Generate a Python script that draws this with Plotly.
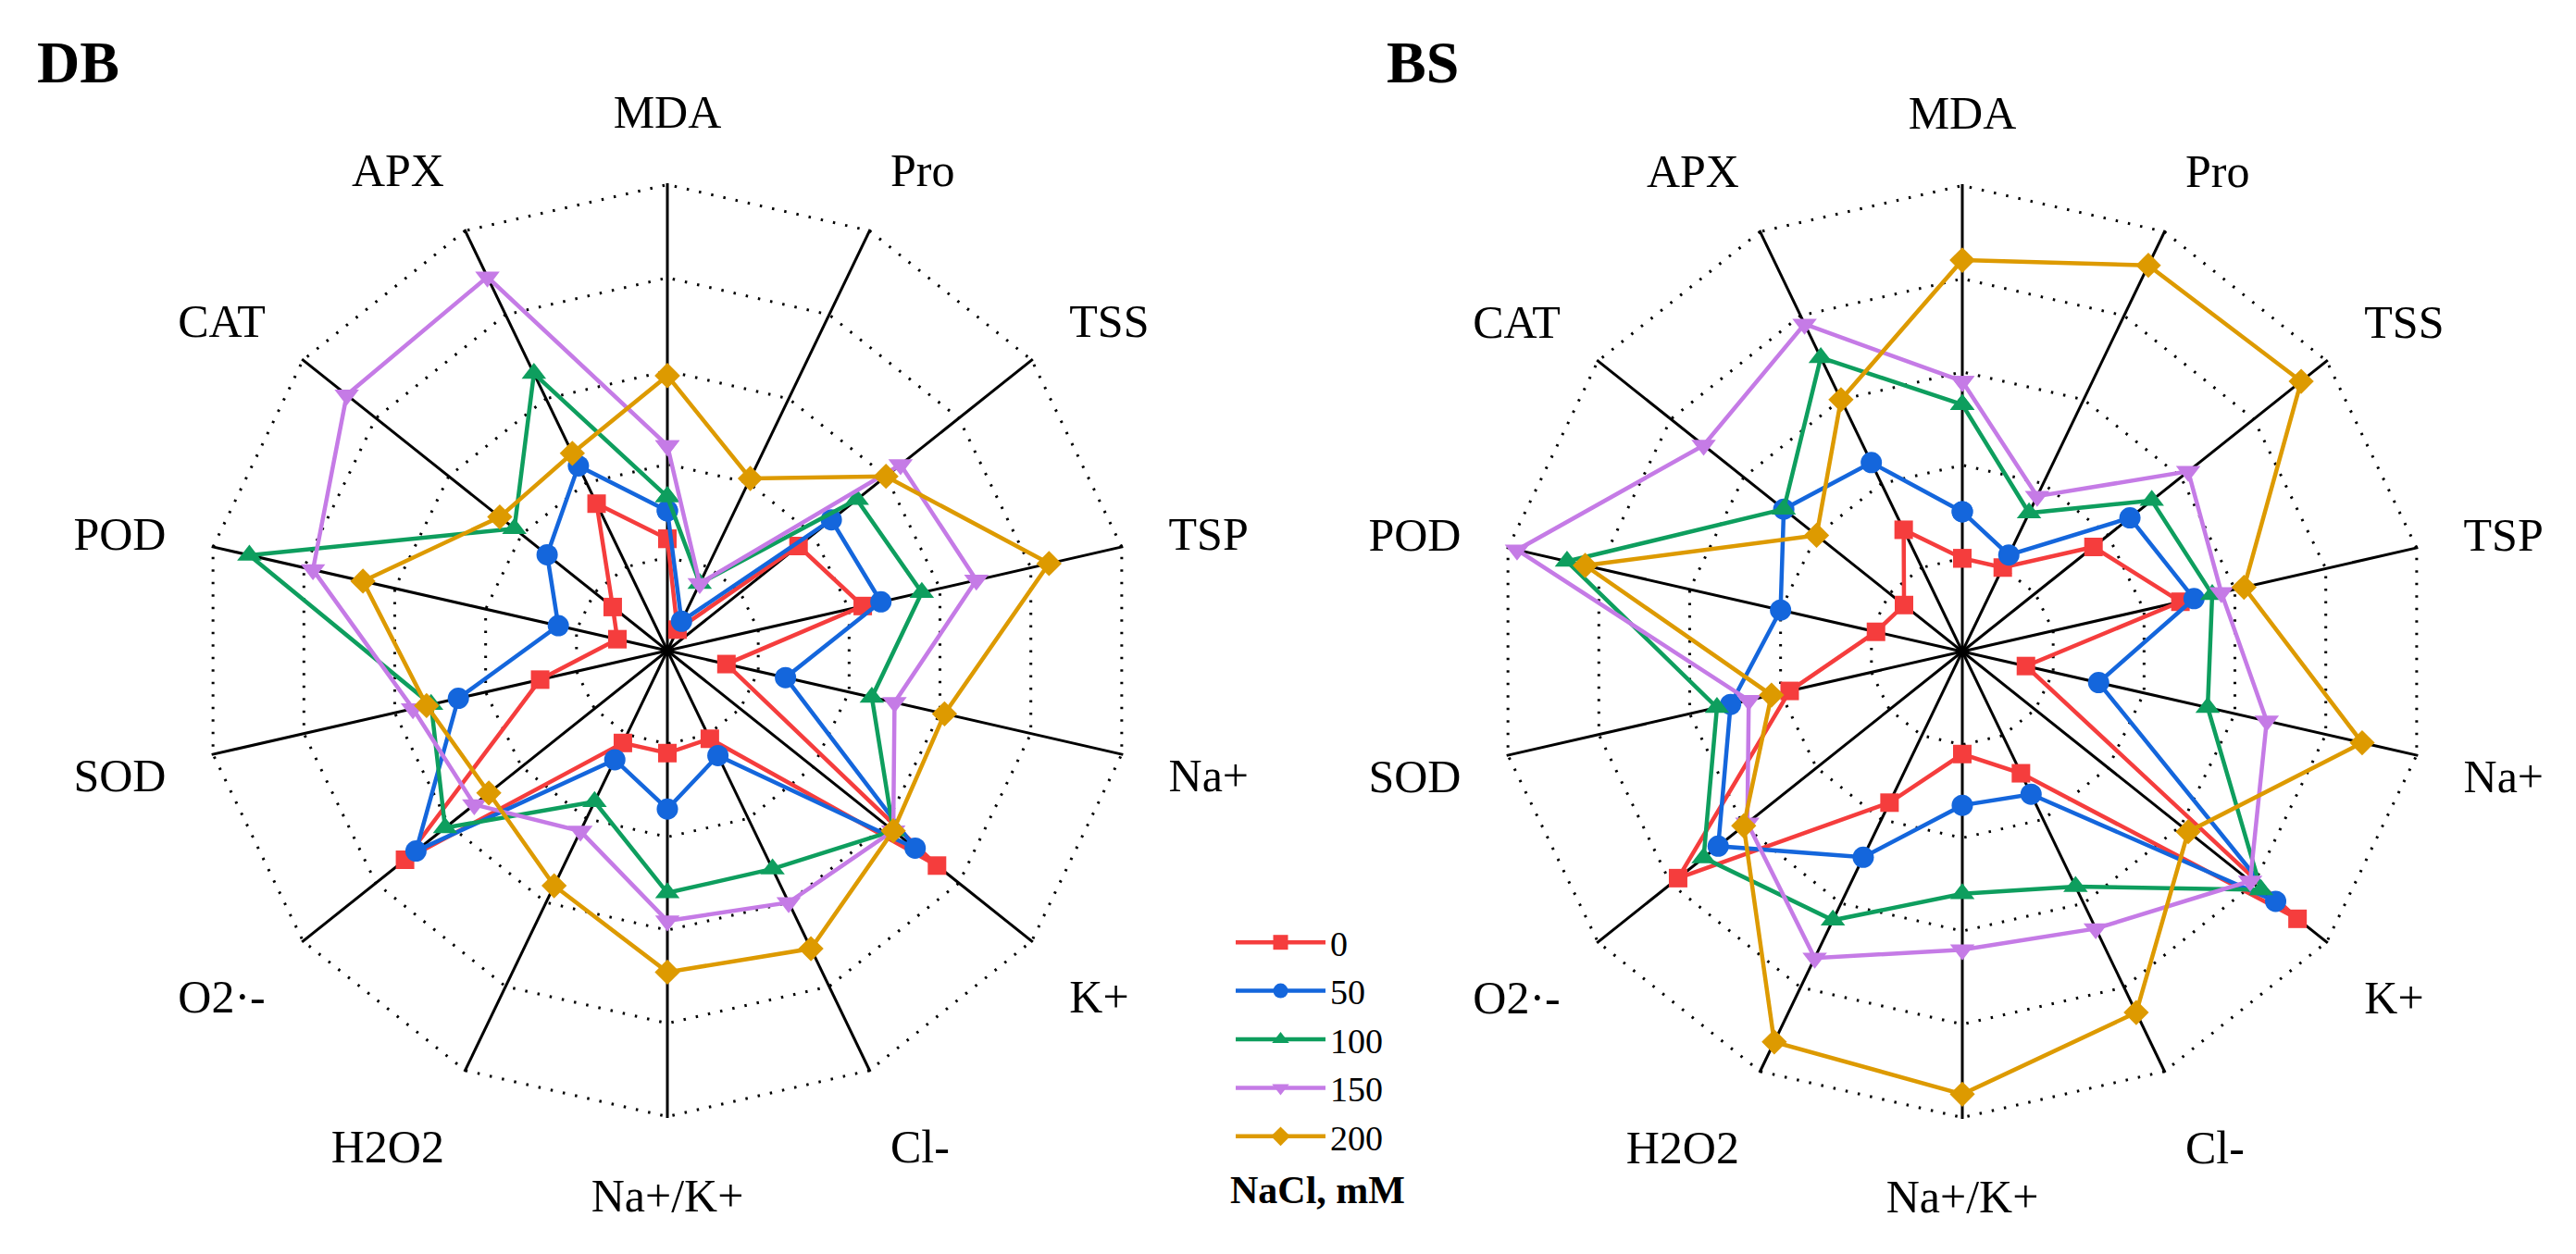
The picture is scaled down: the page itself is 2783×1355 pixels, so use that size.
import plotly.graph_objects as go

categories = ["MDA", "Pro", "TSS", "TSP", "Na+", "K+", "Cl-", "Na+/K+",
              "H2O2", "O2·-", "SOD", "POD", "CAT", "APX"]
series_names = ["0", "50", "100", "150", "200"]

# DB panel (normalised values, outer ring = 1.0)
db_0   = [0.24, 0.05, 0.36, 0.43, 0.13, 0.74, 0.21, 0.22, 0.22, 0.72, 0.28, 0.11, 0.15, 0.35]
db_50  = [0.30, 0.07, 0.45, 0.47, 0.26, 0.68, 0.25, 0.34, 0.26, 0.69, 0.46, 0.24, 0.33, 0.44]
db_100 = [0.33, 0.16, 0.52, 0.56, 0.45, 0.62, 0.52, 0.52, 0.36, 0.61, 0.52, 0.92, 0.42, 0.66]
db_150 = [0.44, 0.16, 0.64, 0.68, 0.50, 0.62, 0.60, 0.58, 0.43, 0.53, 0.56, 0.78, 0.88, 0.89]
db_200 = [0.59, 0.41, 0.60, 0.84, 0.61, 0.62, 0.71, 0.69, 0.56, 0.49, 0.53, 0.67, 0.46, 0.47]

# BS panel
bs_0   = [0.20, 0.20, 0.36, 0.48, 0.14, 0.92, 0.29, 0.22, 0.36, 0.78, 0.38, 0.19, 0.16, 0.29]
bs_50  = [0.30, 0.23, 0.46, 0.51, 0.30, 0.86, 0.34, 0.33, 0.49, 0.67, 0.51, 0.40, 0.49, 0.45]
bs_100 = [0.53, 0.33, 0.52, 0.55, 0.54, 0.82, 0.56, 0.52, 0.64, 0.71, 0.54, 0.87, 0.49, 0.70]
bs_150 = [0.58, 0.37, 0.62, 0.57, 0.67, 0.79, 0.66, 0.64, 0.73, 0.59, 0.47, 0.98, 0.71, 0.78]
bs_200 = [0.84, 0.92, 0.93, 0.62, 0.88, 0.62, 0.86, 0.95, 0.93, 0.60, 0.42, 0.83, 0.40, 0.60]

colors = ["#F53D3D", "#1466DC", "#0E9E5E", "#C57BE6", "#DD9A00"]
symbols = ["square", "circle", "triangle-up", "triangle-down", "diamond"]
sizes = [20, 23, 23, 23, 21]

FONT = "Liberation Serif, Times New Roman, serif"

fig = go.Figure()

def closed(v):
    return list(v) + [v[0]]

for panel, data in (("polar", [db_0, db_50, db_100, db_150, db_200]),
                    ("polar2", [bs_0, bs_50, bs_100, bs_150, bs_200])):
    for i, vals in enumerate(data):
        fig.add_trace(go.Scatterpolar(
            r=closed(vals), theta=closed(categories), subplot=panel,
            mode="lines+markers", name=series_names[i],
            line=dict(color=colors[i], width=4.5),
            marker=dict(symbol=symbols[i], size=sizes[i], color=colors[i]),
            showlegend=(panel == "polar"), cliponaxis=False,
        ))

def polar_layout(xd, yd):
    return dict(
        domain=dict(x=xd, y=yd),
        bgcolor="white",
        gridshape="linear",
        radialaxis=dict(range=[0, 1.003], tickvals=[0.2, 0.4, 0.6, 0.8, 1.0],
                        showticklabels=False, ticks="", showline=False,
                        gridcolor="black", gridwidth=2.5, griddash="2.5px,11px"),
        angularaxis=dict(rotation=90, direction="clockwise", showline=False,
                         gridcolor="black", gridwidth=2.5,
                         ticks="outside", ticklen=40, tickcolor="rgba(0,0,0,0)",
                         tickfont=dict(family=FONT, size=50, color="black")),
    )

W, H = 2783, 1355
R = 505
def dom(cx, cy):
    return ([(cx - R) / W, (cx + R) / W], [(H - cy - R) / H, (H - cy + R) / H])

dx1, dy1 = dom(713, 695)
dx2, dy2 = dom(2112, 696)

fig.update_layout(
    width=W, height=H,
    margin=dict(l=0, r=0, t=0, b=0),
    paper_bgcolor="white",
    font=dict(family=FONT, color="black"),
    polar=polar_layout(dx1, dy1),
    polar2=polar_layout(dx2, dy2),
    legend=dict(x=1322 / W, y=(H - 979) / H, xanchor="left", yanchor="top",
                font=dict(family=FONT, size=38, color="black"),
                itemwidth=97, tracegroupgap=0, bgcolor="rgba(0,0,0,0)"),
    annotations=[
        dict(text="<b>DB</b>", x=30 / W, y=(H - 60) / H, xref="paper", yref="paper",
             xanchor="left", yanchor="middle", showarrow=False,
             font=dict(family=FONT, size=64, color="black")),
        dict(text="<b>BS</b>", x=1488 / W, y=(H - 60) / H, xref="paper", yref="paper",
             xanchor="left", yanchor="middle", showarrow=False,
             font=dict(family=FONT, size=64, color="black")),
        dict(text="<b>NaCl, mM</b>", x=1415 / W, y=(H - 1278) / H, xref="paper", yref="paper",
             xanchor="center", yanchor="middle", showarrow=False,
             font=dict(family=FONT, size=42, color="black")),
    ],
)

fig.write_html("out.html")
